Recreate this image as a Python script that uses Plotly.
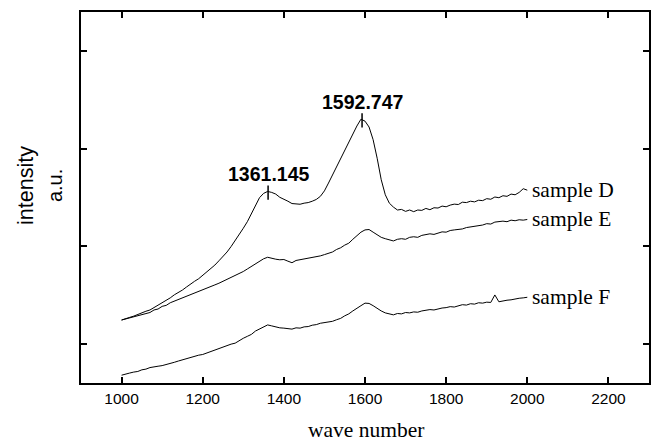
import plotly.graph_objects as go

wavenumber = list(range(1000, 2001, 10))

sample_D = [0.645, 0.655, 0.672, 0.685, 0.703, 0.715, 0.735, 0.748, 0.772, 0.795,
            0.818, 0.848, 0.872, 0.903, 0.925, 0.952, 0.983, 1.008, 1.042, 1.068,
            1.102, 1.131, 1.172, 1.208, 1.252, 1.293, 1.342, 1.398, 1.458, 1.522,
            1.585, 1.652, 1.732, 1.815, 1.898, 1.942, 1.962, 1.952, 1.935, 1.902,
            1.885, 1.862, 1.838, 1.832, 1.831, 1.842, 1.848, 1.862, 1.880, 1.912,
            1.968, 2.048, 2.132, 2.218, 2.302, 2.382, 2.462, 2.548, 2.632, 2.702,
            2.682, 2.622, 2.492, 2.302, 2.082, 1.928, 1.842, 1.802, 1.772, 1.778,
            1.758, 1.772, 1.755, 1.772, 1.768, 1.788, 1.775, 1.795, 1.792, 1.812,
            1.805, 1.822, 1.832, 1.828, 1.852, 1.848, 1.862, 1.855, 1.872, 1.868,
            1.888, 1.882, 1.905, 1.898, 1.918, 1.912, 1.935, 1.928, 1.952, 1.990,
            1.975]

sample_E = [0.645, 0.655, 0.668, 0.678, 0.690, 0.698, 0.712, 0.722, 0.748, 0.758,
            0.785, 0.795, 0.822, 0.838, 0.858, 0.872, 0.892, 0.902, 0.922, 0.935,
            0.952, 0.965, 0.988, 1.005, 1.022, 1.042, 1.062, 1.078, 1.098, 1.122,
            1.142, 1.168, 1.195, 1.222, 1.248, 1.272, 1.288, 1.275, 1.268, 1.262,
            1.265, 1.248, 1.232, 1.255, 1.262, 1.268, 1.278, 1.285, 1.290, 1.302,
            1.315, 1.328, 1.342, 1.368, 1.385, 1.412, 1.432, 1.472, 1.505, 1.545,
            1.568, 1.572, 1.545, 1.518, 1.492, 1.478, 1.468, 1.455, 1.472, 1.478,
            1.472, 1.492, 1.498, 1.492, 1.512, 1.518, 1.528, 1.522, 1.538, 1.548,
            1.545, 1.562, 1.568, 1.572, 1.578, 1.592, 1.598, 1.605, 1.612, 1.618,
            1.632, 1.628, 1.648, 1.652, 1.658, 1.652, 1.668, 1.662, 1.672, 1.668,
            1.675]

sample_F = [0.080, 0.095, 0.102, 0.112, 0.118, 0.135, 0.142, 0.158, 0.162, 0.172,
            0.178, 0.192, 0.198, 0.212, 0.225, 0.238, 0.245, 0.262, 0.272, 0.285,
            0.292, 0.308, 0.325, 0.342, 0.352, 0.372, 0.382, 0.398, 0.408, 0.435,
            0.458, 0.478, 0.498, 0.532, 0.555, 0.578, 0.595, 0.585, 0.572, 0.565,
            0.562, 0.558, 0.552, 0.565, 0.562, 0.575, 0.578, 0.592, 0.598, 0.612,
            0.618, 0.628, 0.632, 0.648, 0.662, 0.688, 0.708, 0.738, 0.768, 0.792,
            0.818, 0.815, 0.792, 0.762, 0.738, 0.718, 0.705, 0.698, 0.712, 0.708,
            0.722, 0.718, 0.728, 0.725, 0.738, 0.742, 0.752, 0.748, 0.762, 0.768,
            0.772, 0.782, 0.778, 0.792, 0.802, 0.798, 0.812, 0.808, 0.822, 0.818,
            0.828, 0.825, 0.902, 0.832, 0.842, 0.848, 0.852, 0.862, 0.868, 0.872,
            0.878]

series_names = ["sample D", "sample E", "sample F"]
series_values = [sample_D, sample_E, sample_F]

peak_positions = [1361.145, 1592.747]
peak_labels = ["1361.145", "1592.747"]
peak_heights = [1.962, 2.702]

x_ticks = [1000, 1200, 1400, 1600, 1800, 2000, 2200]
y_ticks = [0.4, 1.4, 2.4, 3.4]

fig = go.Figure()
for name, vals in zip(series_names, series_values):
    fig.add_trace(go.Scatter(x=wavenumber, y=vals, mode="lines", name=name,
                             line=dict(color="black", width=1), showlegend=False))
    fig.add_annotation(x=wavenumber[-1], y=vals[-1], text=name, showarrow=False,
                       xanchor="left", yanchor="middle", xshift=3,
                       font=dict(family="Liberation Serif", size=21.5, color="black"))

for px, lab, h in zip(peak_positions, peak_labels, peak_heights):
    fig.add_shape(type="line", x0=px, x1=px, y0=h - 0.085, y1=h + 0.06,
                  line=dict(color="black", width=1.5))
    fig.add_annotation(x=px, y=h, text="<b>" + lab + "</b>", showarrow=False,
                       xanchor="center", yanchor="middle", yshift=17,
                       font=dict(family="Liberation Sans", size=19.5, color="black"))

fig.add_annotation(xref="paper", yref="paper", x=-0.098, y=0.532, text="intensity",
                   textangle=-90, showarrow=False, xanchor="center", yanchor="middle",
                   font=dict(family="Liberation Sans", size=21.5, color="black"))
fig.add_annotation(xref="paper", yref="paper", x=-0.0456, y=0.531, text="a.u.",
                   textangle=-90, showarrow=False, xanchor="center", yanchor="middle",
                   font=dict(family="Liberation Sans", size=20, color="black"))
fig.add_annotation(xref="paper", yref="paper", x=0.5009, y=-0.127, text="wave number",
                   showarrow=False, xanchor="center", yanchor="middle",
                   font=dict(family="Liberation Serif", size=21.5, color="black"))

fig.update_xaxes(range=[900, 2300], tickvals=x_ticks, ticks="inside", ticklen=6,
                 tickwidth=1.5, tickcolor="black", showline=True, linecolor="black",
                 linewidth=2, mirror="ticks", showgrid=False, zeroline=False,
                 tickfont=dict(family="Liberation Sans", size=15.5, color="black"))
fig.update_yaxes(range=[0, 3.8], tickvals=y_ticks, ticks="inside", ticklen=6,
                 tickwidth=1.5, tickcolor="black", showline=True, linecolor="black",
                 linewidth=2, mirror="ticks", showgrid=False, zeroline=False,
                 showticklabels=False)

fig.update_layout(width=656, height=443, margin=dict(l=81, r=5, t=12, b=60),
                  plot_bgcolor="white", paper_bgcolor="white")

fig.write_html("out.html")
